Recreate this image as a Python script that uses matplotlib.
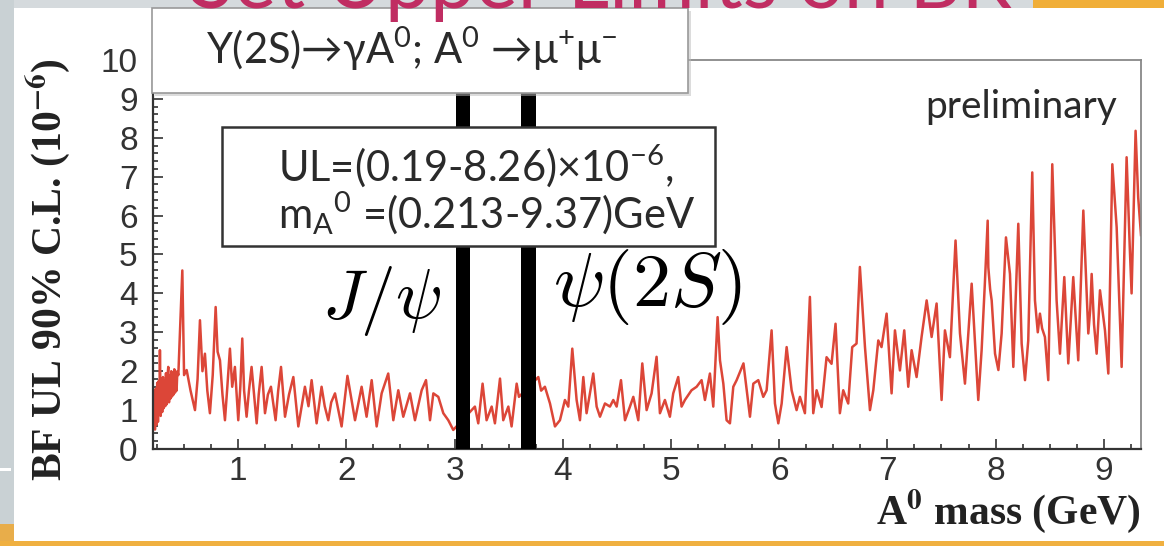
import matplotlib
matplotlib.use("Agg")
import matplotlib.pyplot as plt
from matplotlib.patches import Rectangle
from matplotlib.ticker import MultipleLocator

# sans text in the slide looks like Gill Sans -> Lato is the closest we have
plt.rcParams['mathtext.fontset'] = 'custom'
plt.rcParams['mathtext.rm'] = 'Lato'
plt.rcParams['mathtext.it'] = 'Lato:italic'
plt.rcParams['mathtext.bf'] = 'Lato:bold'

# A0 mass (GeV) and BF upper limit at 90% C.L. (1e-6)
mass = [0.216, 0.224, 0.231, 0.238, 0.245, 0.252, 0.259, 0.266, 0.272, 0.277,
        0.284, 0.291, 0.298, 0.305, 0.312, 0.319, 0.326, 0.333, 0.340, 0.347,
        0.354, 0.361, 0.368, 0.375, 0.382, 0.389, 0.396, 0.403, 0.410, 0.417,
        0.424, 0.431, 0.438, 0.447, 0.484, 0.500, 0.524, 0.560, 0.601, 0.625,
        0.647, 0.670, 0.693, 0.715, 0.739, 0.765, 0.792, 0.810, 0.832, 0.855,
        0.878, 0.900, 0.924, 0.945, 0.970, 1.001, 1.020, 1.038, 1.055, 1.078,
        1.100, 1.124, 1.150, 1.171, 1.190, 1.217, 1.248, 1.275, 1.303, 1.346,
        1.370, 1.396, 1.433, 1.470, 1.510, 1.556, 1.617, 1.650, 1.679, 1.725,
        1.771, 1.800, 1.833, 1.860, 1.895, 1.956, 2.010, 2.080, 2.141, 2.187,
        2.234, 2.280, 2.326, 2.387, 2.434, 2.480, 2.526, 2.588, 2.634, 2.696,
        2.736, 2.773, 2.804, 2.850, 2.896, 2.942, 2.988, 3.188, 3.219, 3.259,
        3.296, 3.343, 3.373, 3.420, 3.450, 3.497, 3.527, 3.574, 3.595, 3.774,
        3.800, 3.835, 3.882, 3.928, 3.974, 4.020, 4.051, 4.088, 4.128, 4.159,
        4.190, 4.220, 4.282, 4.313, 4.344, 4.390, 4.436, 4.467, 4.498, 4.538,
        4.575, 4.621, 4.652, 4.698, 4.735, 4.775, 4.821, 4.867, 4.898, 4.944,
        4.990, 5.021, 5.067, 5.098, 5.129, 5.190, 5.237, 5.283, 5.314, 5.360,
        5.391, 5.431, 5.453, 5.484, 5.514, 5.545, 5.576, 5.607, 5.670, 5.730,
        5.761, 5.807, 5.853, 5.884, 5.930, 5.961, 5.992, 6.023, 6.069, 6.115,
        6.161, 6.192, 6.238, 6.284, 6.315, 6.346, 6.392, 6.438, 6.484, 6.521,
        6.561, 6.592, 6.638, 6.675, 6.715, 6.746, 6.793, 6.839, 6.870, 6.916,
        6.946, 6.993, 7.039, 7.070, 7.116, 7.156, 7.193, 7.224, 7.270, 7.316,
        7.363, 7.409, 7.455, 7.501, 7.532, 7.578, 7.630, 7.671, 7.717, 7.779,
        7.840, 7.871, 7.900, 7.927, 7.933, 7.950, 7.964, 7.995, 8.026, 8.056,
        8.096, 8.133, 8.164, 8.210, 8.241, 8.272, 8.302, 8.339, 8.364, 8.390,
        8.410, 8.430, 8.456, 8.487, 8.524, 8.564, 8.595, 8.635, 8.672, 8.718,
        8.764, 8.811, 8.857, 8.875, 8.888, 8.910, 8.934, 8.965, 9.011, 9.042,
        9.079, 9.119, 9.165, 9.211, 9.240, 9.257, 9.294, 9.318, 9.344]
ul = [0.83, 1.40, 0.50, 1.55, 0.62, 1.70, 0.70, 1.75, 0.95, 2.54,
      0.85, 1.80, 0.95, 1.85, 1.05, 1.75, 1.10, 1.95, 1.15, 1.85,
      2.11, 1.20, 1.90, 1.30, 2.00, 1.35, 1.95, 1.40, 2.05, 1.45,
      1.90, 1.50, 2.00, 1.90, 4.59, 1.90, 2.03, 1.50, 1.00, 1.80,
      3.31, 2.00, 2.45, 1.50, 0.92, 1.90, 3.65, 2.50, 2.28, 1.40,
      0.74, 1.60, 2.58, 1.60, 2.11, 0.74, 1.60, 2.84, 1.50, 0.83,
      1.50, 2.11, 1.30, 0.66, 1.40, 2.11, 0.92, 1.40, 1.60, 0.74,
      1.50, 2.11, 0.83, 1.40, 1.85, 0.58, 1.60, 1.10, 1.77, 0.66,
      1.60, 1.10, 0.74, 1.20, 1.43, 0.58, 1.88, 0.74, 1.60, 0.83,
      1.77, 0.58, 1.43, 1.94, 0.74, 1.51, 0.83, 1.43, 0.74, 1.51,
      1.77, 0.74, 1.43, 1.34, 0.92, 0.74, 0.49, 1.09, 0.66, 1.68,
      0.74, 1.09, 0.66, 1.81, 0.74, 1.09, 0.58, 1.68, 1.34, 1.85,
      1.50, 1.60, 1.17, 0.58, 0.74, 1.26, 1.09, 2.58, 1.26, 0.74,
      1.85, 0.92, 1.94, 1.09, 0.83, 1.17, 1.09, 1.26, 1.09, 1.77,
      0.74, 1.09, 1.34, 0.74, 2.20, 1.00, 1.43, 2.37, 0.92, 1.26,
      0.83, 1.43, 1.85, 1.09, 1.26, 1.51, 1.60, 1.77, 1.26, 1.94,
      1.09, 3.39, 2.28, 1.68, 0.74, 0.66, 1.60, 1.77, 2.20, 0.83,
      1.68, 1.77, 1.34, 1.51, 3.05, 1.17, 0.66, 1.17, 2.62, 1.51,
      1.00, 1.34, 0.92, 3.91, 0.92, 1.51, 1.08, 2.36, 2.19, 3.22,
      0.92, 1.51, 1.17, 2.62, 2.71, 4.68, 2.62, 1.00, 1.51, 2.79,
      2.62, 3.48, 1.43, 3.05, 2.02, 3.05, 1.60, 2.54, 1.85, 2.88,
      3.82, 2.88, 3.74, 1.26, 3.05, 2.36, 5.36, 2.97, 1.68, 4.25,
      1.26, 2.54, 4.20, 5.87, 4.67, 4.10, 3.82, 2.45, 2.03, 2.97,
      5.44, 4.50, 2.11, 5.79, 2.71, 1.77, 2.79, 7.11, 3.82, 3.00,
      3.48, 3.10, 2.88, 1.77, 7.32, 3.82, 2.45, 4.42, 2.20, 4.42,
      2.28, 6.13, 2.97, 3.60, 4.50, 3.20, 2.45, 4.08, 3.05, 1.94,
      7.32, 5.70, 2.11, 7.50, 5.20, 4.00, 8.18, 6.47, 5.50]

# J/psi and psi(2S) veto windows (GeV)
veto_jpsi = (3.01, 3.14)
veto_psi2s = (3.61, 3.75)

xtick_vals = [1, 2, 3, 4, 5, 6, 7, 8, 9]
ytick_vals = [0, 1, 2, 3, 4, 5, 6, 7, 8, 9, 10]

W, H = 1164, 546
fig = plt.figure(figsize=(W / 100, H / 100), dpi=100, facecolor='white')


def fx(px):
    return px / W


def fy(py):
    return 1 - py / H


def rect(x0, y0, x1, y1, **kw):
    # rectangle in image pixel coords (y down)
    r = Rectangle((fx(x0), fy(y1)), (x1 - x0) / W, (y1 - y0) / H,
                  transform=fig.transFigure, **kw)
    fig.add_artist(r)
    return r


# slide background bits
rect(0, 0, W, 8, facecolor='#d5dadd', edgecolor='none', zorder=-5)
rect(1033, 0, W, 8, facecolor='#f0ae38', edgecolor='none', zorder=-4)
rect(0, 0, 14, H, facecolor='#c9d1d4', edgecolor='none', zorder=-5)
rect(0, 524, 14, H, facecolor='#e8ad4a', edgecolor='none', zorder=-4)
rect(0, 468, 11, 471, facecolor='white', edgecolor='none', zorder=-4)
rect(0, 541, W, H, facecolor='#f0b040', edgecolor='none', zorder=-4)

fig.text(fx(190), fy(8), 'Set Upper Limits on BR', fontsize=58,
         family='Lato', color='#c02d62', ha='left', va='baseline')

# main plot
ax = fig.add_axes([fx(153), fy(449), (1141 - 153) / W, (449 - 60) / H])
ax.plot(mass, ul, color='#dc4638', lw=1.8, zorder=2)
ax.axvspan(*veto_jpsi, color='black', zorder=3, lw=0)
ax.axvspan(*veto_psi2s, color='black', zorder=3, lw=0)
ax.set_xlim(0.213, 9.344)
ax.set_ylim(0, 10)

ax.set_xticks(xtick_vals)
ax.set_yticks(ytick_vals)
ax.xaxis.set_minor_locator(MultipleLocator(0.25))
ax.yaxis.set_minor_locator(MultipleLocator(0.2))
ax.tick_params(which='both', direction='in', color='#333333', width=1.2)
ax.tick_params(which='major', length=7)
ax.tick_params(which='minor', length=3.5)
ax.tick_params(axis='x', pad=5)
ax.tick_params(axis='y', pad=11)
for lab in ax.get_xticklabels() + ax.get_yticklabels():
    lab.set_family('Liberation Sans')
    lab.set_fontsize(24)
    lab.set_color('#333333')
for s in ['left', 'bottom']:
    ax.spines[s].set_color('#333333')
    ax.spines[s].set_linewidth(1.6)
for s in ['top', 'right']:
    ax.spines[s].set_color('#888888')
    ax.spines[s].set_linewidth(1.3)

# axis titles, ROOT style bold serif
fig.text(fx(1141), fy(524), r'A$^{\mathbf{0}}$ mass (GeV)', ha='right',
         va='baseline', fontsize=30, family='Liberation Serif',
         weight='bold', math_fontfamily='stix', color='#222222')
fig.text(fx(48), fy(270), r'BF UL 90% C.L. (10$^{\mathbf{-6}}$)',
         rotation=90, ha='center', va='center', fontsize=30,
         family='Liberation Serif', weight='bold', math_fontfamily='stix',
         color='#222222')

# decay box (top left)
rect(155, 11, 691, 96, facecolor='#bbbbbb', edgecolor='none', alpha=0.5,
     zorder=1)
rect(152, 8, 688, 93, facecolor='white', edgecolor='#999999', lw=1.2,
     zorder=1.1)
fig.text(fx(206), fy(64),
         r'Υ(2S)→γA$^{\mathregular{0}}$; A$^{\mathregular{0}}$ →'
         r'μ$^{\mathregular{+}}$μ$^{\mathregular{-}}$',
         fontsize=30, family='Lato', color='#2a2a2a', ha='left',
         va='baseline')

# UL summary box
rect(222, 127, 715, 246, facecolor='white', edgecolor='#333333', lw=1.8,
     zorder=1.1)
fig.text(fx(476), fy(166), r'UL=(0.19-8.26)×10$^{\mathregular{-6}}$,',
         fontsize=30, family='Lato', color='#2a2a2a', ha='center',
         va='center')
fig.text(fx(487), fy(213),
         r'm$_{\mathregular{A}}$$^{\mathregular{0}}$ =(0.213-9.37)GeV',
         fontsize=30, family='Lato', color='#2a2a2a', ha='center',
         va='center')

fig.text(fx(1117), fy(118), 'preliminary', fontsize=28, family='Lato',
         color='#2a2a2a', ha='right', va='baseline')

# resonance labels
fig.text(fx(322), fy(318), r'$J/\psi$', fontsize=50, math_fontfamily='cm',
         ha='left', va='baseline')
fig.text(fx(553), fy(306), r'$\psi(2S)$', fontsize=55, math_fontfamily='cm',
         ha='left', va='baseline')

fig.savefig('out.png', dpi=100)
